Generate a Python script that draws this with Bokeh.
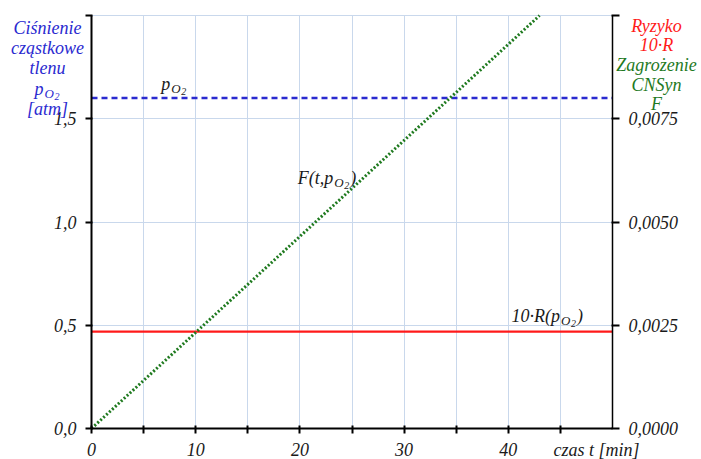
from bokeh.plotting import figure
from bokeh.models import Range1d, LinearAxis, FixedTicker, Label, Grid
from bokeh.embed import file_html
from bokeh.resources import INLINE

# ---- data ----
po2_t = [0, 50]
po2_val = [1.6, 1.6]               # partial pressure of oxygen [atm]
risk_t = [0, 50]
risk_val = [0.469, 0.469]          # 10*R(po2), left scale
F_t = [0, 43]
F_val = [0.0, 0.01]                # F(t, po2), right scale

x_major = [0, 10, 20, 30, 40]
x_minor = [5, 15, 25, 35, 45]
x_grid = [5, 10, 15, 20, 25, 30, 35, 40, 45]
y_ticks = [0, 0.5, 1.0, 1.5, 2.0]
y_tick_labels = {0: "0,0", 0.5: "0,5", 1: "1,0", 1.5: "1,5", 2: ""}
y_grid = [0.5, 1.0, 1.5, 2.0]
r_ticks = [0, 0.0025, 0.005, 0.0075, 0.01]
r_tick_labels = {0: "0,0000", 0.0025: "0,0025", 0.005: "0,0050", 0.0075: "0,0075", 0.01: ""}

FONT = "Liberation Serif"
BLUE = "#2a2ad0"
RED = "#ff1a1a"
GREEN = "#1f7a1f"
GRID = "#c9d8ec"
TXT = "#1a1a1a"

W, H = 700, 459
# plot area of the reference: t 0..50 -> px 91..612, value 0..2 -> px 428..15
px_per_t = (612 - 91) / 50
px_per_v = (428 - 15) / 2.0
x0 = -91 / px_per_t
x1 = 50 + (W - 612) / px_per_t
y0 = -(H - 428) / px_per_v
y1 = 2.0 + 15 / px_per_v
F_SCALE = 0.005

p = figure(width=W, height=H, output_backend="svg", toolbar_location=None,
           x_range=Range1d(x0, x1), y_range=Range1d(y0, y1),
           min_border_left=0, min_border_right=0, min_border_top=0, min_border_bottom=0)
p.outline_line_color = None
p.background_fill_color = "white"
p.border_fill_color = "white"
p.extra_y_ranges = {"F": Range1d(y0 * F_SCALE, y1 * F_SCALE)}

# grids
has_cross = "cross_bounds" in Grid.properties()
for g, ticks, b, cb in ((p.xgrid[0], x_grid, (0, 50), (0, 2.0)),
                        (p.ygrid[0], y_grid, (0, 2.0), (0, 50))):
    g.ticker = FixedTicker(ticks=ticks)
    g.bounds = b
    g.grid_line_color = GRID
    g.grid_line_width = 1
    if has_cross:
        g.cross_bounds = cb
if not has_cross:
    p.xgrid.visible = False
    p.ygrid.visible = False
    p.segment(x_grid, [0] * len(x_grid), x_grid, [2.0] * len(x_grid), line_color=GRID, line_width=1)
    p.segment([0] * len(y_grid), y_grid, [50] * len(y_grid), y_grid, line_color=GRID, line_width=1)

def style_axis(ax):
    ax.axis_line_color = "black"
    ax.axis_line_width = 2
    ax.major_tick_line_color = "black"
    ax.major_tick_line_width = 2
    ax.minor_tick_line_color = "black"
    ax.minor_tick_line_width = 2
    ax.major_label_text_font = FONT
    ax.major_label_text_font_style = "italic"
    ax.major_label_text_font_size = "18px"
    ax.major_label_text_color = TXT

xa = p.xaxis[0]
style_axis(xa)
xa.fixed_location = 0
xa.bounds = (0, 50)
xa.ticker = FixedTicker(ticks=x_major, minor_ticks=x_minor)
xa.major_tick_in = 3
xa.major_tick_out = 5
xa.minor_tick_in = 3
xa.minor_tick_out = 5
xa.major_label_standoff = 9

ya = p.yaxis[0]
style_axis(ya)
ya.fixed_location = 0
ya.bounds = (0, 2.0)
ya.ticker = FixedTicker(ticks=y_ticks)
ya.major_label_overrides = y_tick_labels
ya.major_tick_in = 1
ya.major_tick_out = 6
ya.minor_tick_line_color = None
ya.major_label_standoff = 9

ra = LinearAxis(y_range_name="F")
style_axis(ra)
ra.axis_line_width = 1.5
ra.fixed_location = 50
ra.bounds = (0, 0.01)
ra.ticker = FixedTicker(ticks=r_ticks)
ra.major_label_overrides = r_tick_labels
ra.major_tick_in = 1
ra.major_tick_out = 7
ra.minor_tick_line_color = None
ra.major_label_standoff = 9
p.add_layout(ra, "right")

# lines
p.line(risk_t, risk_val, line_color=RED, line_width=2.2)
p.line(po2_t, po2_val, line_color=BLUE, line_width=2.5, line_dash="6 4")
p.line(F_t, F_val, y_range_name="F", line_color=GREEN, line_width=3, line_dash="2 2")

def lab(x, y, text, color=TXT, size=18, xo=0, yo=0, align="left"):
    p.add_layout(Label(x=x, y=y, text=text, x_offset=xo, y_offset=yo,
                       text_font=FONT, text_font_style="italic",
                       text_font_size=f"{size}px", text_color=color,
                       text_align=align, text_baseline="alphabetic"))

# left title (anchored at the top of the left axis)
for i, s in enumerate(["Ciśnienie", "cząstkowe", "tlenu"]):
    lab(0, 2.0, s, BLUE, xo=-44, yo=-12 - 20 * i, align="center")
lab(0, 2.0, "p", BLUE, xo=-57, yo=-73)
lab(0, 2.0, "O", BLUE, size=13, xo=-47, yo=-78)
lab(0, 2.0, "2", BLUE, size=10, xo=-37, yo=-81)
lab(0, 2.0, "[atm]", BLUE, xo=-44, yo=-93, align="center")

# right title (anchored at the top of the right axis)
right_lines = [("Ryzyko", RED), ("10·R", RED), ("Zagrożenie", GREEN), ("CNSyn", GREEN), ("F", GREEN)]
for i, (s, c) in enumerate(right_lines):
    lab(50, 2.0, s, c, xo=44, yo=-10 - 19.7 * i, align="center")

# x axis title
lab(50, 0, "czas t [min]", TXT, xo=-59, yo=-21, align="left")

# in-plot annotations
def sub_label(x, y, head, tail, head_w):
    lab(x, y, head)
    lab(x, y, "O", size=13, xo=head_w + 1, yo=-5)
    lab(x, y, "2", size=10, xo=head_w + 11, yo=-8)
    if tail:
        lab(x, y, tail, xo=head_w + 17)

sub_label(6.7, 1.67, "p", "", 9)
sub_label(19.8, 1.215, "F(t,p", ")", 35.5)
sub_label(40.3, 0.547, "10·R(p", ")", 48.5)

open("out.html", "w").write(file_html(p, INLINE))
